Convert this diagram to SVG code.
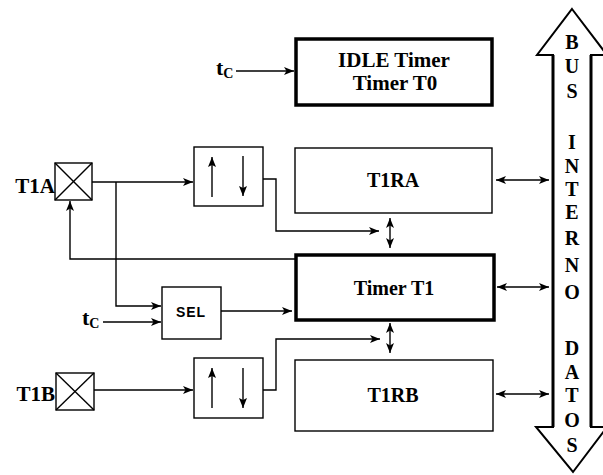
<svg xmlns="http://www.w3.org/2000/svg" width="603" height="475" viewBox="0 0 603 475">
  <style>
    .thin { fill: #fff; stroke: #000; stroke-width: 1.4; }
    .thick { fill: #fff; stroke: #000; stroke-width: 3.5; }
    .ln { fill: none; stroke: #000; stroke-width: 1.4; }
    .lbl { font-family: "Liberation Serif", "Times New Roman", serif; font-weight: bold; fill: #000; }
    .sans { font-family: "Liberation Sans", Arial, sans-serif; font-weight: bold; fill: #000; }
  </style>
  <defs>
    <marker id="arr" viewBox="0 0 10 8" refX="10" refY="4" markerWidth="11" markerHeight="8" markerUnits="userSpaceOnUse" orient="auto-start-reverse">
      <path d="M0,0 L10,4 L0,8 L2.5,4 z" fill="#000"/>
    </marker>
    <marker id="arrs" viewBox="0 0 10 8" refX="10" refY="4" markerWidth="12" markerHeight="8" markerUnits="userSpaceOnUse" orient="auto-start-reverse">
      <path d="M0,0 L10,4 L0,8 L2,4 z" fill="#000"/>
    </marker>
  </defs>

  <!-- data bus -->
  <g id="bus">
    <polygon points="572,9 607,55 591,55 591,427 607,427 573,472 536,427 553,427 553,55 537,55" fill="#fff" stroke="#000" stroke-width="2"/>
    <line x1="553" y1="55" x2="553" y2="427" stroke="#000" stroke-width="3"/>
    <line x1="591" y1="55" x2="591" y2="427" stroke="#000" stroke-width="3"/>
    <g class="lbl" font-size="20" text-anchor="middle">
      <text x="572" y="49">B</text>
      <text x="572" y="73">U</text>
      <text x="572" y="98">S</text>
      <text x="572" y="149">I</text>
      <text x="572" y="173">N</text>
      <text x="572" y="196">T</text>
      <text x="572" y="219">E</text>
      <text x="572" y="245">R</text>
      <text x="572" y="272">N</text>
      <text x="572" y="299">O</text>
      <text x="572" y="355">D</text>
      <text x="572" y="379">A</text>
      <text x="572" y="402">T</text>
      <text x="572" y="427">O</text>
      <text x="572" y="452">S</text>
    </g>
  </g>

  <!-- blocks -->
  <g id="idle">
    <rect class="thick" x="296" y="39" width="196" height="66"/>
    <text class="lbl" font-size="21" x="394" y="67" text-anchor="middle">IDLE Timer</text>
    <text class="lbl" font-size="21" x="395" y="90" text-anchor="middle">Timer T0</text>
  </g>
  <g id="t1ra">
    <rect class="thin" x="295" y="148" width="197" height="65"/>
    <text class="lbl" font-size="20" x="393" y="187" text-anchor="middle">T1RA</text>
  </g>
  <g id="timer1">
    <rect class="thick" x="296" y="255" width="198" height="65"/>
    <text class="lbl" font-size="20" x="394" y="295" text-anchor="middle">Timer T1</text>
  </g>
  <g id="t1rb">
    <rect class="thin" x="295" y="360" width="198" height="71"/>
    <text class="lbl" font-size="20" x="393" y="402" text-anchor="middle">T1RB</text>
  </g>
  <g id="sel">
    <rect class="thin" x="162" y="287" width="59" height="52"/>
    <text class="sans" font-size="14" x="191" y="317" text-anchor="middle" letter-spacing="1">SEL</text>
  </g>
  <g id="edgeA">
    <rect class="thin" x="194" y="147" width="69" height="59"/>
    <line class="ln" x1="212" y1="197" x2="212" y2="157" marker-end="url(#arrs)"/>
    <line class="ln" x1="243" y1="156" x2="243" y2="196" marker-end="url(#arrs)"/>
  </g>
  <g id="edgeB">
    <rect class="thin" x="194" y="358" width="69" height="60"/>
    <line class="ln" x1="212" y1="408" x2="212" y2="368" marker-end="url(#arrs)"/>
    <line class="ln" x1="243" y1="368" x2="243" y2="408" marker-end="url(#arrs)"/>
  </g>
  <g id="pinA">
    <rect class="thin" x="55" y="163" width="37" height="37"/>
    <line class="ln" x1="55" y1="163" x2="92" y2="200"/>
    <line class="ln" x1="92" y1="163" x2="55" y2="200"/>
    <text class="lbl" font-size="21" x="55" y="193" text-anchor="end">T1A</text>
  </g>
  <g id="pinB">
    <rect class="thin" x="56" y="373" width="38" height="37"/>
    <line class="ln" x1="56" y1="373" x2="94" y2="410"/>
    <line class="ln" x1="94" y1="373" x2="56" y2="410"/>
    <text class="lbl" font-size="21" x="55" y="401" text-anchor="end">T1B</text>
  </g>
  <g id="clk0">
    <text class="lbl" font-size="22" x="216" y="75">t<tspan font-size="14" dy="3">C</tspan></text>
  </g>
  <g id="clk1">
    <text class="lbl" font-size="22" x="82" y="325">t<tspan font-size="14" dy="3">C</tspan></text>
  </g>

  <!-- connectors -->
  <g id="wires">
    <line class="ln" x1="236" y1="71" x2="294" y2="71" marker-end="url(#arr)"/>
    <line class="ln" x1="92" y1="182" x2="193" y2="182" marker-end="url(#arr)"/>
    <polyline class="ln" points="116,182 116,306 161,306" marker-end="url(#arr)"/>
    <line class="ln" x1="103" y1="322" x2="161" y2="322" marker-end="url(#arr)"/>
    <line class="ln" x1="221" y1="311" x2="292" y2="311" marker-end="url(#arr)"/>
    <polyline class="ln" points="295,259 70,259 70,201" marker-end="url(#arr)"/>
    <polyline class="ln" points="263,179 276,179 276,231 379,231" marker-end="url(#arr)"/>
    <line class="ln" x1="94" y1="390" x2="193" y2="390" marker-end="url(#arr)"/>
    <polyline class="ln" points="263,390 276,390 276,339 380,339" marker-end="url(#arr)"/>
    <line class="ln" x1="390" y1="218" x2="390" y2="248" marker-start="url(#arr)" marker-end="url(#arr)"/>
    <line class="ln" x1="390" y1="323" x2="390" y2="353" marker-start="url(#arr)" marker-end="url(#arr)"/>
    <line class="ln" x1="496" y1="180" x2="549" y2="180" marker-start="url(#arr)" marker-end="url(#arr)"/>
    <line class="ln" x1="497" y1="287" x2="549" y2="287" marker-start="url(#arr)" marker-end="url(#arr)"/>
    <line class="ln" x1="496" y1="394" x2="549" y2="394" marker-start="url(#arr)" marker-end="url(#arr)"/>
  </g>
</svg>
